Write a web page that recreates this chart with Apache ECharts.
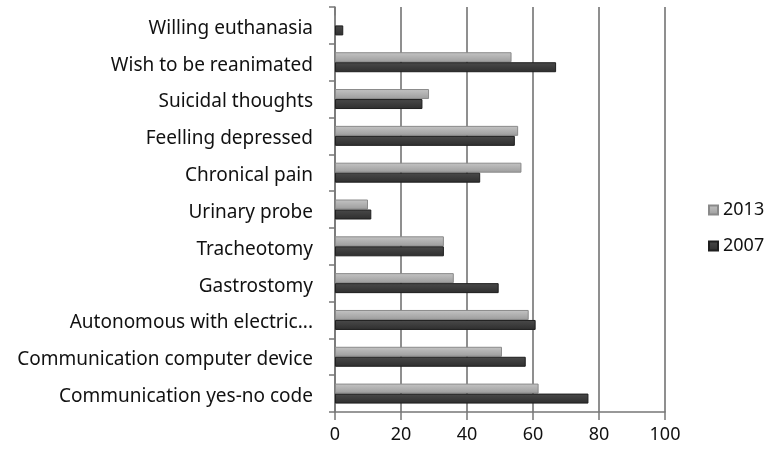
<!DOCTYPE html>
<html>
<head>
<meta charset="utf-8">
<script src="https://cdn.jsdelivr.net/npm/echarts@6/dist/echarts.min.js"></script>
<style>html,body{margin:0;padding:0;background:#fff;}#c{width:767px;height:450px;}</style>
</head>
<body>
<div id="c"></div>
<script>
var categories = ["Willing euthanasia","Wish to be reanimated","Suicidal thoughts","Feelling depressed","Chronical pain","Urinary probe","Tracheotomy","Gastrostomy","Autonomous with electric...","Communication computer device","Communication yes-no code"];
var values2013 = [0, 53.5, 28.5, 55.5, 56.5, 10, 33, 36, 58.7, 50.6, 61.7];
var values2007 = [2.5, 67, 26.5, 54.5, 44, 11, 33, 49.6, 60.8, 57.8, 76.8];
var xTicks = [0, 20, 40, 60, 80, 100];

var chart = echarts.init(document.getElementById('c'));
chart.setOption({
  animation: false,
  backgroundColor: '#fff',
  textStyle: { fontFamily: 'Noto Sans' },
  legend: {
    orient: 'vertical', left: 703, top: 196, itemGap: 18, itemWidth: 9, itemHeight: 9,
    icon: 'rect', data: ['2013', '2007'],
    textStyle: { fontSize: 18, color: '#111', fontFamily: 'Noto Sans' }
  },
  grid: { left: 335, right: 102, top: 7, bottom: 38, containLabel: false },
  xAxis: {
    type: 'value', min: xTicks[0], max: xTicks[xTicks.length - 1], interval: 20,
    axisLine: { show: true, lineStyle: { color: '#777', width: 1.5 } },
    axisTick: { show: true, length: 8, lineStyle: { color: '#777', width: 1.5 } },
    splitLine: { show: true, lineStyle: { color: '#6a6a6a', width: 1.5 } },
    axisLabel: { fontSize: 18, color: '#111', margin: 14, fontFamily: 'Noto Sans' }
  },
  yAxis: {
    type: 'category', data: categories, inverse: true,
    axisLine: { show: true, lineStyle: { color: '#777', width: 1.5 } },
    axisTick: { show: true, length: 6, lineStyle: { color: '#777', width: 1.5 } },
    axisLabel: {
      margin: 22,
      formatter: function (v) { return '{a|' + v + '}'; },
      rich: { a: { fontSize: 19, color: '#111', fontFamily: 'Noto Sans', padding: [6, 0, 0, 0] } }
    }
  },
  series: [
    { name: '2013', type: 'bar', data: values2013, barWidth: 10, barGap: '0%',
      itemStyle: {
        color: new echarts.graphic.LinearGradient(0, 0, 0, 1, [
          { offset: 0, color: '#c4c4c4' }, { offset: 1, color: '#9c9c9c' }
        ]),
        borderColor: '#8a8a8a', borderWidth: 1 } },
    { name: '2007', type: 'bar', data: values2007, barWidth: 10, barGap: '0%',
      itemStyle: {
        color: new echarts.graphic.LinearGradient(0, 0, 0, 1, [
          { offset: 0, color: '#4a4a4a' }, { offset: 1, color: '#2e2e2e' }
        ]),
        borderColor: '#1e1e1e', borderWidth: 1 } }
  ]
});
</script>
</body>
</html>
